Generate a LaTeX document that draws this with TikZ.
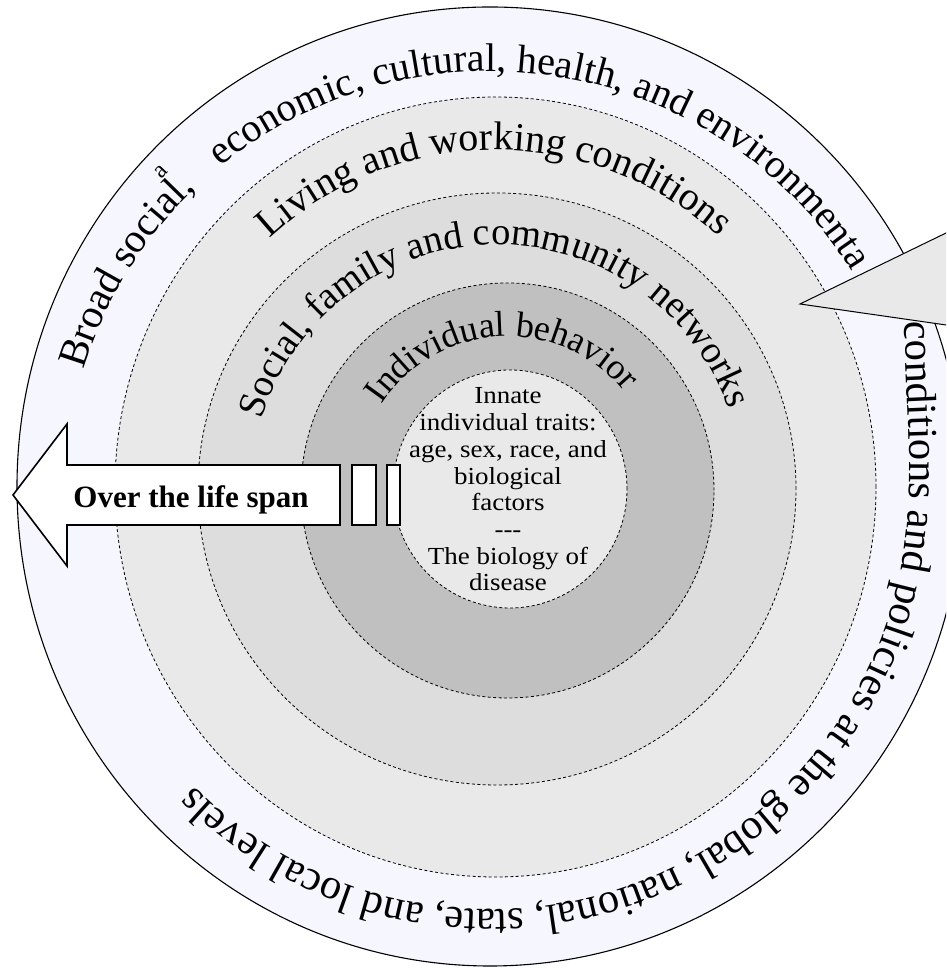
\documentclass[tikz,border=0pt]{standalone}
\usepackage{fontspec}
\setmainfont{Liberation Serif}
\newfontfamily\corefont[FakeStretch=1.1]{Liberation Serif}
\usetikzlibrary{decorations.text}

\definecolor{paleblue}{HTML}{F5F6FE}
\definecolor{ringlive}{HTML}{E9E9E9}
\definecolor{ringsocial}{HTML}{DDDDDD}
\definecolor{ringindiv}{HTML}{C0C0C0}
\definecolor{coreshade}{HTML}{E9E9E9}
\definecolor{calloutfill}{HTML}{E9E9E9}

% faint blue glow towards the inside of the outermost band
\pgfdeclareradialshading{outerband}{\pgfpoint{0bp}{0bp}}{%
  color(0bp)=(paleblue); color(39bp)=(paleblue); color(49bp)=(white); color(50bp)=(white)}

\tikzset{
  ringline/.style={draw=black, line width=0.8pt, dash pattern=on 3pt off 2.4pt},
  rimline/.style={draw=black, line width=1.1pt},
  arcfont/.style={decorate, decoration={text along path, text align=center, text={#1}}},
  arcleft/.style={decorate, decoration={text along path, text align=left, text={#1}}},
  arcright/.style={decorate, decoration={text along path, text align=right, text={#1}}},
  blockarrow/.style={draw=black, fill=white, line width=1.6pt, line join=miter},
  breakbar/.style={draw=black, fill=white, line width=1.4pt},
}

\begin{document}
\begin{tikzpicture}[x=1pt, y=1pt]
  \useasboundingbox (0,0) rectangle (946,968);
  \clip (0,0) rectangle (946,968);

  % outermost band: broad conditions and policies
  \shade[shading=outerband] (490,481.5) ellipse [x radius=473, y radius=479.5];
  \draw[rimline] (490,481.5) ellipse [x radius=473, y radius=479.5];

  % living and working conditions
  \fill[ringlive] (495.5,481) ellipse [x radius=380.5, y radius=390];
  \draw[ringline] (495.5,481) ellipse [x radius=380.5, y radius=390];

  % social, family and community networks
  \fill[ringsocial] (497,479) ellipse [x radius=299, y radius=296];
  \draw[ringline] (497,479) ellipse [x radius=299, y radius=296];

  % individual behaviour
  \fill[ringindiv] (507.5,477.5) ellipse [x radius=206.5, y radius=207.5];
  \draw[ringline] (507.5,477.5) ellipse [x radius=206.5, y radius=207.5];

  % innate traits core
  \fill[coreshade] (510,479) ellipse [x radius=117, y radius=119];
  \draw[ringline] (510,479) ellipse [x radius=117, y radius=119];

  % curved band captions
  \path[arcright={|\fontsize{41}{46}\selectfont|Broad social,}]
    (490,481.5) ++(178:423 and 415) arc[start angle=178, end angle=134, x radius=423, y radius=415];
  \path[arcleft={|\fontsize{40}{46}\selectfont|economic, cultural, health, and environmenta}]
    (490,481.5) ++(129.6:423 and 415) arc[start angle=129.6, end angle=10, x radius=423, y radius=415];
  \path[arcleft={|\fontsize{42.5}{48}\selectfont|conditions and policies at the global, national, state, and local levels}]
    (905,646) .. controls (905,580) and (916.4,486.8) .. (902.6,408)
    arc[start angle=-10, end angle=-165, x radius=419, y radius=423];
  \path[arcfont={|\fontsize{40}{46}\selectfont|Living and working conditions}]
    (495.5,481) ++(160:334 and 337) arc[start angle=160, end angle=20.6, x radius=334, y radius=337];
  \path[arcfont={|\fontsize{38.5}{45}\selectfont|Social, family and community networks}]
    (497,479) ++(178:245 and 244) arc[start angle=178, end angle=4.6, x radius=245, y radius=244];
  \path[arcfont={|\fontsize{36}{42}\selectfont|Individual behavior}]
    (507.5,477.5) ++(170:152 and 154) arc[start angle=170, end angle=16, x radius=152, y radius=154];

  \node[rotate=46, font=\fontsize{24}{26}\selectfont, inner sep=0] (supa) at (161,796) {a};

  \node[align=center, inner sep=0, font=\corefont\fontsize{24.5}{26.7}\selectfont] (core) at (508,478.5)
    {Innate\\individual traits:\\age, sex, race, and\\biological\\factors\\-{}-{}-\\The biology of\\disease};

  % life-span arrow with break marks
  \draw[blockarrow] (340,503) -- (67,503) -- (67,544) -- (13,473) -- (67,402) -- (67,443) -- (340,443) -- cycle;
  \node[font=\fontsize{31}{36}\selectfont\bfseries, anchor=base, inner sep=0] (span) at (191,460) {Over the life span};
  \draw[breakbar] (352,443) rectangle (376,503);
  \draw[breakbar] (387,443) rectangle (400,503);

  % callout pointer entering from the right
  \draw[fill=calloutfill, line width=1pt, line join=miter] (800,664) -- (960,741.8) -- (960,641) -- cycle;
\end{tikzpicture}
\end{document}
